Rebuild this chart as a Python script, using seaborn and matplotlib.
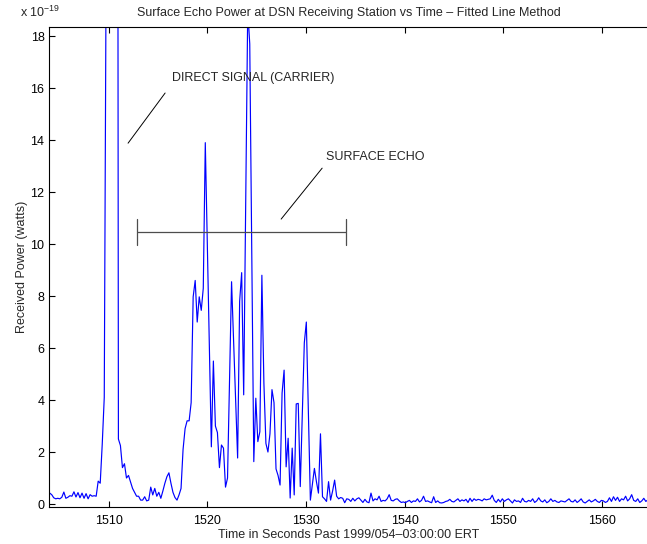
import numpy as np
import pandas as pd
import matplotlib
matplotlib.use("Agg")
import matplotlib.pyplot as plt
import seaborn as sns

sns.set_theme(style="white")
plt.rcParams["font.family"] = ["Liberation Sans", "DejaVu Sans"]
plt.rcParams["mathtext.default"] = "regular"

# sample clock: 1504.0 s + 0.205 s per sample
T_START = 1504.0
T_STEP = 0.205

# received power (x 1e-19 W)
pre_carrier = [0.42, 0.36, 0.24, 0.2, 0.22, 0.2, 0.26, 0.46, 0.22, 0.26,
               0.32, 0.3, 0.47, 0.27, 0.44, 0.24, 0.42, 0.22, 0.4, 0.2,
               0.36, 0.3, 0.32, 0.3]
carrier = [0.88, 0.8, 2.3, 4.1, 22.0, 60.0, 120.0, 150.0, 120.0, 80.0]
carrier_tail = [2.5, 2.25, 1.4, 1.55, 1.0, 1.1, 0.85, 0.6, 0.45, 0.3,
                0.3, 0.15, 0.15, 0.28, 0.12, 0.15, 0.65, 0.35, 0.6, 0.3,
                0.45, 0.22, 0.5, 0.8, 1.05, 1.2, 0.8, 0.45, 0.25]
echo = [0.15, 0.35, 0.6, 2.1, 2.9, 3.2, 3.2, 3.9, 7.97, 8.6,
        7.0, 7.97, 7.45, 8.3, 13.9, 10.0, 6.1, 2.2, 5.5, 3.0,
        2.75, 1.4, 2.27, 2.15, 0.65, 1.0, 4.8, 8.55, 6.3, 4.0,
        1.77, 7.8, 8.9, 4.2, 11.5, 19.0, 17.7, 9.6, 1.63, 4.07,
        2.4, 2.78, 8.8, 4.65, 2.33, 2.0, 2.7, 4.4, 3.9, 1.35,
        1.1, 0.73, 4.27, 5.15, 1.43, 2.53, 0.23, 2.15, 0.35, 3.85,
        3.87, 0.67, 3.5, 6.2, 7.0, 3.6, 0.15]
echo_tail = [0.75, 1.37, 0.86, 0.42, 2.7, 0.28, 0.2, 0.1, 0.86, 0.15,
             0.5, 0.92, 0.3, 0.2, 0.25, 0.22, 0.05]
noise_floor = [0.2, 0.18, 0.1, 0.22, 0.12, 0.2, 0.24, 0.15, 0.06, 0.18,
               0.08, 0.05, 0.42, 0.12, 0.2, 0.16, 0.3, 0.1, 0.14, 0.12,
               0.2, 0.36, 0.14, 0.12, 0.18, 0.2, 0.12, 0.06, 0.08, 0.05,
               0.1, 0.14, 0.06, 0.12, 0.1, 0.2, 0.08, 0.14, 0.3, 0.1,
               0.12, 0.08, 0.05, 0.28, 0.06, 0.12, 0.05, 0.04, 0.06, 0.1,
               0.12, 0.18, 0.1, 0.08, 0.14, 0.2, 0.1, 0.16, 0.12, 0.18,
               0.06, 0.22, 0.1, 0.2, 0.14, 0.18, 0.16, 0.12, 0.2, 0.16,
               0.18, 0.2, 0.34, 0.14, 0.06, 0.18, 0.08, 0.2, 0.1, 0.16,
               0.2, 0.12, 0.04, 0.16, 0.1, 0.12, 0.06, 0.22, 0.1, 0.08,
               0.14, 0.1, 0.2, 0.06, 0.12, 0.24, 0.12, 0.08, 0.16, 0.05,
               0.1, 0.2, 0.1, 0.14, 0.08, 0.06, 0.12, 0.1, 0.08, 0.14,
               0.2, 0.1, 0.08, 0.16, 0.06, 0.12, 0.2, 0.08, 0.04, 0.1,
               0.16, 0.08, 0.12, 0.18, 0.1, 0.06, 0.14, 0.12, 0.06, 0.1,
               0.24, 0.1, 0.28, 0.14, 0.26, 0.1, 0.2, 0.16, 0.3, 0.12,
               0.2, 0.36, 0.14, 0.1, 0.2, 0.06, 0.12, 0.22, 0.1, 0.16]

power = pre_carrier + carrier + carrier_tail + echo + echo_tail + noise_floor
df = pd.DataFrame({
    "time": T_START + T_STEP * np.arange(len(power)),
    "power": power,
})

fig = plt.figure(figsize=(6.47, 5.44), dpi=100)
ax = fig.add_axes([0.0762, 0.068, 0.9254, 0.8824])

sns.lineplot(data=df, x="time", y="power", ax=ax, color="#0000ff",
             linewidth=0.85, estimator=None, sort=False)

ax.set_xlim(1503.96, 1564.7)
ax.set_ylim(-0.115, 18.35)
ax.set_xticks(range(1510, 1561, 10))
ax.set_yticks(range(0, 19, 2))
ax.tick_params(direction="in", length=4, width=0.8, labelsize=9,
               colors="black", bottom=True, left=True, top=True, right=False)
ax.tick_params(axis="x", pad=6)
for side in ["left", "bottom", "top", "right"]:
    ax.spines[side].set_color("black")
    ax.spines[side].set_linewidth(0.8)

ax.set_xlabel("Time in Seconds Past 1999/054\u201303:00:00 ERT", fontsize=9, labelpad=1)
ax.set_ylabel("Received Power (watts)", fontsize=9, labelpad=2)
ax.set_title("Surface Echo Power at DSN Receiving Station vs Time \u2013 Fitted Line Method",
             fontsize=9, pad=8)
fig.text(0.031, 0.977, r"x 10$^{-19}$", fontsize=9, va="center", ha="left")

# annotations
ax.plot([1511.95, 1515.71], [13.88, 15.81], color="black", linewidth=0.7)
ax.text(1516.4, 16.38, "DIRECT SIGNAL (CARRIER)", fontsize=9, va="center", ha="left")
ax.plot([1527.48, 1531.64], [10.96, 12.92], color="black", linewidth=0.7)
ax.text(1532.05, 13.35, "SURFACE ECHO", fontsize=9, va="center", ha="left")

ax.errorbar([1523.47], [10.45], xerr=[10.6], color="0.3", linewidth=0.9,
            capsize=0)
ax.plot([1512.87, 1512.87], [9.95, 10.95], color="0.3", linewidth=0.9)
ax.plot([1534.07, 1534.07], [9.95, 10.95], color="0.3", linewidth=0.9)

fig.savefig("out.png", dpi=100)
